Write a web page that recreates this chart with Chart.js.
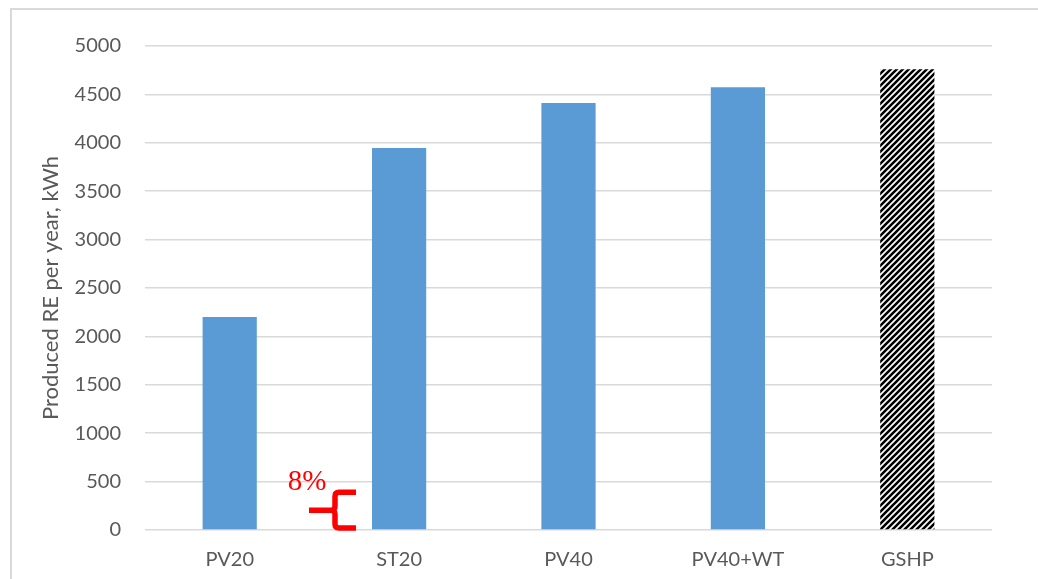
<!DOCTYPE html>
<html>
<head>
<meta charset="utf-8">
<script src="https://cdn.jsdelivr.net/npm/chart.js@4/dist/chart.umd.min.js"></script>
<style>
  html, body { margin:0; padding:0; background:#fff; overflow:hidden; }
  #wrap { position:relative; width:1038px; height:579px; overflow:hidden; }
  #frame { position:absolute; left:10px; top:8px; width:1040px; height:600px; border:2px solid #d9d9d9; box-sizing:border-box; }
  canvas { position:absolute; left:0; top:0; }
</style>
</head>
<body>
<div id="wrap">
  <div id="frame"></div>
  <canvas id="c" width="1038" height="579"></canvas>
</div>
<script>
const categories = ['PV20', 'ST20', 'PV40', 'PV40+WT', 'GSHP'];
const producedRE = [2200, 3945, 4410, 4575, 4760];
const yTicks = [0, 500, 1000, 1500, 2000, 2500, 3000, 3500, 4000, 4500, 5000];
const yTitle = 'Produced RE per year, kWh';
const noteText = '8%';
const noteRange = [20, 390]; // bracket span in kWh

function stripePattern() {
  const s = 6;
  const t = document.createElement('canvas');
  t.width = s; t.height = s;
  const g = t.getContext('2d');
  g.fillStyle = '#fff'; g.fillRect(0, 0, s, s);
  g.strokeStyle = '#000'; g.lineWidth = 2.6;
  g.beginPath();
  g.moveTo(-1, s + 1); g.lineTo(s + 1, -1);
  g.moveTo(-1, 1); g.lineTo(1, -1);
  g.moveTo(s - 1, s + 1); g.lineTo(s + 1, s - 1);
  g.stroke();
  return document.getElementById('c').getContext('2d').createPattern(t, 'repeat');
}
const pat = stripePattern();
const colors = producedRE.map((v, i) => i === producedRE.length - 1 ? pat : '#5b9bd5');

const FONT = "Lato, 'Open Sans', 'Liberation Sans', sans-serif";

const notePlugin = {
  id: 'note',
  afterDatasetsDraw(chart) {
    const ctx = chart.ctx;
    const y = chart.scales.y;
    const bar = chart.getDatasetMeta(0).data[1];
    const left = bar.x - bar.width / 2;
    const armEnd = left - 16;
    const vx = armEnd - 21;
    const yTop = y.getPixelForValue(noteRange[1]);
    const yBot = y.getPixelForValue(noteRange[0]);
    const yMid = (yTop + yBot) / 2;
    ctx.save();
    ctx.strokeStyle = '#ff0000';
    ctx.lineWidth = 5.5;
    ctx.lineCap = 'butt';
    ctx.beginPath();
    ctx.moveTo(armEnd, yTop);
    ctx.lineTo(vx + 4, yTop);
    ctx.quadraticCurveTo(vx, yTop, vx, yTop + 4);
    ctx.lineTo(vx, yMid - 4);
    ctx.quadraticCurveTo(vx, yMid, vx - 4, yMid);
    ctx.lineTo(vx - 26, yMid);
    ctx.moveTo(vx - 4, yMid);
    ctx.quadraticCurveTo(vx, yMid, vx, yMid + 4);
    ctx.lineTo(vx, yBot - 4);
    ctx.quadraticCurveTo(vx, yBot, vx + 4, yBot);
    ctx.lineTo(armEnd, yBot);
    ctx.stroke();
    ctx.fillStyle = '#ff0000';
    ctx.font = "29px 'Liberation Serif', 'Times New Roman', serif";
    ctx.textAlign = 'center';
    ctx.textBaseline = 'alphabetic';
    ctx.fillText(noteText, vx - 28, yTop - 2);
    ctx.restore();
  }
};

new Chart(document.getElementById('c'), {
  type: 'bar',
  data: {
    labels: categories,
    datasets: [{
      data: producedRE,
      backgroundColor: colors,
      borderWidth: 0,
      categoryPercentage: 1,
      barPercentage: 0.32
    }]
  },
  options: {
    responsive: false,
    devicePixelRatio: 1,
    animation: false,
    layout: { padding: { left: 38, top: 46, right: 46, bottom: 0 } },
    plugins: { legend: { display: false }, tooltip: { enabled: false } },
    scales: {
      x: {
        grid: { display: false, drawTicks: false },
        border: { display: false },
        ticks: { color: '#595959', font: { family: FONT, size: 20 }, padding: 18 },
        afterFit(s) { s.height = 49; }
      },
      y: {
        min: 0, max: 5000,
        afterBuildTicks(s) { s.ticks = yTicks.map(v => ({ value: v })); },
        grid: { color: '#d9d9d9', lineWidth: 1.5, drawTicks: false },
        border: { display: false },
        ticks: { color: '#595959', font: { family: FONT, size: 20 }, padding: 24, callback: v => String(v) },
        title: { display: true, text: yTitle, color: '#595959', font: { family: FONT, size: 22, weight: 'normal' }, padding: 0 },
        afterFit(s) { s.width = 107; }
      }
    }
  },
  plugins: [notePlugin]
});
</script>
</body>
</html>
